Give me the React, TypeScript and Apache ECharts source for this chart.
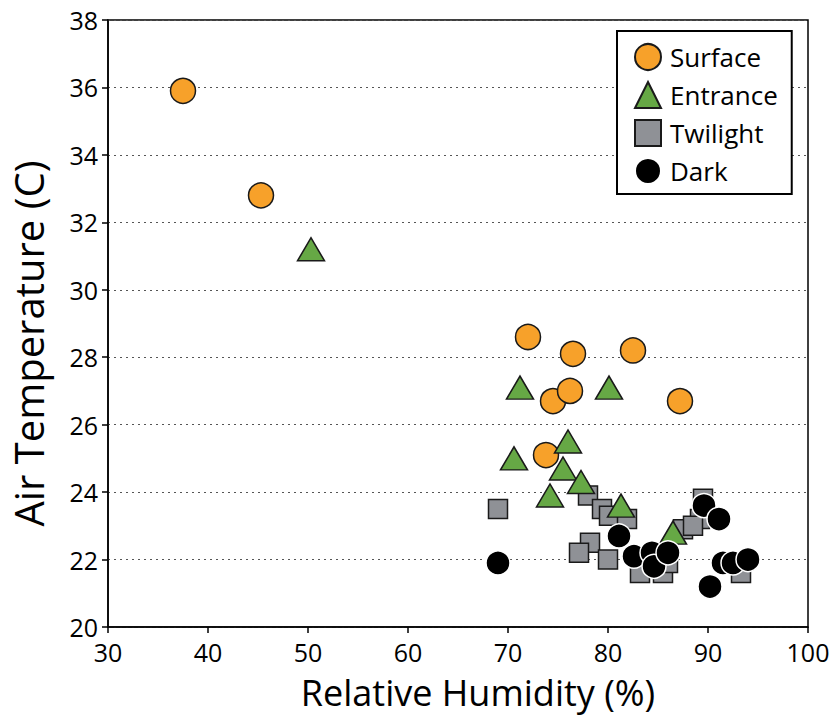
import React, { useEffect, useRef } from "react";
import * as echarts from "echarts";

const xTicks = { min: 30, max: 100, interval: 10 };
const yTicks = { min: 20, max: 38, interval: 2 };

const surface: [number, number][] = [
  [37.5, 35.9], [45.3, 32.8], [72.0, 28.6], [76.5, 28.1], [82.5, 28.2],
  [74.5, 26.7], [76.2, 27.0], [87.2, 26.7], [73.8, 25.1],
];
const entrance: [number, number][] = [
  [50.3, 31.2], [71.2, 27.1], [80.1, 27.1], [76.0, 25.5], [70.6, 25.0],
  [75.5, 24.7], [77.3, 24.3], [74.2, 23.9], [81.3, 23.6], [86.5, 22.8],
];
const twilight: [number, number][] = [
  [69.0, 23.5], [78.0, 23.9], [79.4, 23.5], [80.1, 23.3], [81.9, 23.2],
  [78.2, 22.5], [77.1, 22.2], [80.0, 22.0], [83.2, 21.6], [85.5, 21.6],
  [86.0, 21.9], [87.5, 22.9], [89.5, 23.8], [89.2, 23.2], [88.5, 23.0],
  [93.3, 21.6],
];
const dark: [number, number][] = [
  [69.0, 21.9], [81.1, 22.7], [82.6, 22.1], [84.4, 22.2], [84.6, 21.8],
  [86.0, 22.2], [89.6, 23.6], [91.1, 23.2], [91.5, 21.9], [92.5, 21.9],
  [94.0, 22.0], [90.2, 21.2],
];

const FONT = "Open Sans";

export default function App() {
  const ref = useRef<HTMLDivElement>(null);
  useEffect(() => {
    if (!ref.current) return;
    const chart = echarts.init(ref.current, null, { renderer: "svg" });
    chart.setOption({
      animation: false,
      backgroundColor: "#ffffff",
      textStyle: { fontFamily: FONT, color: "#000" },
      grid: {
        left: 101, right: 28, top: 20, bottom: 89,
        show: true, borderColor: "#000", borderWidth: 1.5,
        backgroundColor: "transparent",
      },
      legend: {
        orient: "vertical",
        left: 617, top: 31,
        padding: [12, 14, 9, 17],
        itemGap: 10,
        itemWidth: 26, itemHeight: 26,
        borderColor: "#000", borderWidth: 2,
        backgroundColor: "#fff",
        data: ["Surface", "Entrance", "Twilight", "Dark"],
        textStyle: { fontFamily: FONT, fontSize: 26, lineHeight: 26, color: "#000", padding: [0, 0, 0, 4] },
      },
      xAxis: {
        type: "value",
        min: xTicks.min, max: xTicks.max, interval: xTicks.interval,
        name: "Relative Humidity (%)",
        nameLocation: "middle",
        nameGap: 46,
        nameTextStyle: { fontFamily: FONT, fontSize: 36, lineHeight: 38, color: "#000", padding: [0, 0, 0, 40] },
        axisLine: { onZero: false, lineStyle: { color: "#000", width: 1.5 } },
        axisTick: { show: true, inside: false, length: 6, lineStyle: { color: "#000", width: 1.5 } },
        axisLabel: { fontFamily: FONT, fontSize: 25, lineHeight: 24, color: "#000", margin: 13 },
        splitLine: { show: false },
      },
      yAxis: {
        type: "value",
        min: yTicks.min, max: yTicks.max, interval: yTicks.interval,
        name: "Air Temperature (C)",
        nameLocation: "middle",
        nameGap: 60,
        nameTextStyle: { fontFamily: FONT, fontSize: 40, color: "#000", padding: [0, 40, 0, 0] },
        axisLine: { onZero: false, lineStyle: { color: "#000", width: 1.5 } },
        axisTick: { show: true, inside: false, length: 6, lineStyle: { color: "#000", width: 1.5 } },
        axisLabel: { fontFamily: FONT, fontSize: 25, color: "#000", margin: 10 },
        splitLine: { show: true, lineStyle: { color: "#555", type: [2, 4], width: 1.2 } },
      },
      series: [
        {
          name: "Surface", type: "scatter", data: surface,
          symbol: "circle", symbolSize: 25,
          itemStyle: { color: "#F7A12A", borderColor: "#1a1a1a", borderWidth: 1.5, opacity: 1 },
        },
        {
          name: "Twilight", type: "scatter", data: twilight,
          symbol: "rect", symbolSize: 19,
          itemStyle: { color: "#8F9196", borderColor: "#1a1a1a", borderWidth: 1.5, opacity: 1 },
        },
        {
          name: "Entrance", type: "scatter", data: entrance,
          symbol: "triangle", symbolSize: [27, 23],
          itemStyle: { color: "#66A845", borderColor: "#1a1a1a", borderWidth: 1.5, opacity: 1 },
        },
        {
          name: "Dark", type: "scatter", data: dark,
          symbol: "circle", symbolSize: 24,
          itemStyle: { color: "#000", borderColor: "#fff", borderWidth: 1.5, opacity: 1 },
        },
      ],
    });
    return () => chart.dispose();
  }, []);
  return (
    <div
      ref={ref}
      style={{ position: "absolute", left: 0, top: 0, width: 836, height: 716 }}
    />
  );
}
